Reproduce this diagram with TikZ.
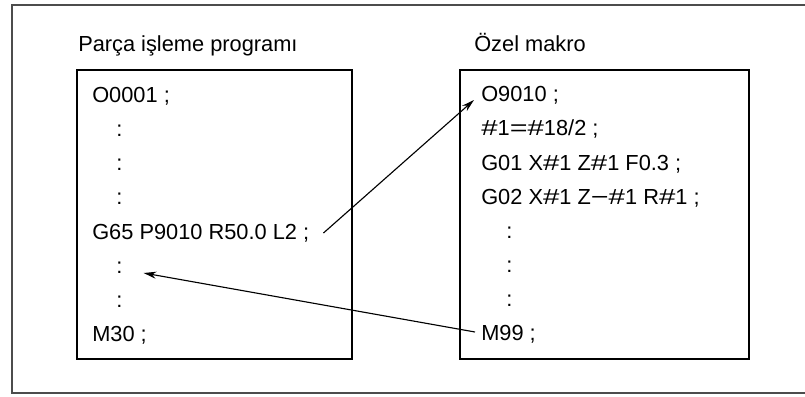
\documentclass[tikz,border=0pt]{standalone}
\usepackage{fontspec}
\usepackage{graphicx}
\setmainfont{Liberation Sans}
\usetikzlibrary{positioning,calc,arrows.meta}

\newcommand{\wh}{\scalebox{1.35}[1]{\#}}
\newcommand{\weq}{\scalebox{1.4}[1]{=}}
\newcommand{\wmin}{\scalebox{1.4}[1]{−}}

\tikzset{
  line/.style={inner sep=0pt,anchor=base west,font=\fontsize{15.5}{18}\selectfont},
  progbox/.style={draw,line width=1pt},
  jump/.style={line width=0.8pt,-{Stealth[length=9pt,width=5pt]}}
}

\begin{document}
\begin{tikzpicture}[x=0.025cm,y=-0.025cm]
		\useasboundingbox (0,0) rectangle (805,396);
		\draw[line width=1.4pt,black!70] (806,5) -- (12,5) -- (12,393) -- (806,393);

		% the two program boxes
		\draw[progbox] (77,70) rectangle (352,359);
		\draw[progbox] (460,70) rectangle (749,359);
		\node[line] (titleprog) at (78,51) {Parça işleme programı};
		\node[line] (titlemacro) at (474,51) {Özel makro};

		% part program
		\node[line] (p1) at (92,102) {O0001 ;};
		\node[line] (p2) at (116,136) {:};
		\node[line] (p3) at (116,170) {:};
		\node[line] (p4) at (116,204) {:};
		\node[line] (p5) at (92,239) {G65 P9010 R50.0 L2 ;};
		\node[line] (p6) at (116,273) {:};
		\node[line] (p7) at (116,307) {:};
		\node[line] (p8) at (92,341) {M30 ;};

		% custom macro
		\node[line] (m1) at (481,101) {O9010 ;};
		\node[line] (m2) at (481,135) {\wh1\weq\wh18/2 ;};
		\node[line] (m3) at (481,170) {G01 X\wh1 Z\wh1 F0.3 ;};
		\node[line] (m4) at (481,204) {G02 X\wh1 Z\wmin\wh1 R\wh1 ;};
		\node[line] (m5) at (506,238) {:};
		\node[line] (m6) at (506,272) {:};
		\node[line] (m7) at (506,306) {:};
		\node[line] (m8) at (481,340) {M99 ;};

		\draw[jump] ($(p5.base east)+(14,-6)$) -- ($(m1.base west)+(-7,-1)$);
		\draw[jump] ($(m8.base west)+(-6,-8)$) -- ($(p6.base east)+(21,0)$);
	\end{tikzpicture}
\end{document}
